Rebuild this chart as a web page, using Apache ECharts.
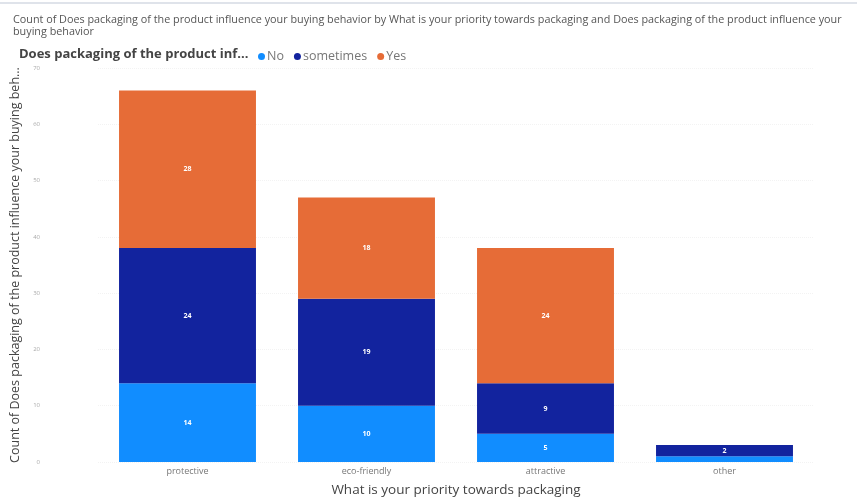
<!DOCTYPE html>
<html>
<head>
<meta charset="utf-8">
<script src="https://cdn.jsdelivr.net/npm/echarts@6/dist/echarts.min.js"></script>
<style>
  html, body { margin: 0; padding: 0; background: #fff; }
  #chart { width: 857px; height: 497px; }
</style>
</head>
<body>
<div id="chart"></div>
<script>
"use strict";

var categories = ['protective', 'eco-friendly', 'attractive', 'other'];
var noValues = [14, 10, 5, 1];
var sometimesValues = [24, 19, 9, 2];
var yesValues = [28, 18, 24, 0];

var COLOR_NO = '#118DFF';
var COLOR_SOMETIMES = '#12239E';
var COLOR_YES = '#E66C37';

function barLabel() {
	return {
		show: true,
		color: '#fff',
		fontSize: 7,
		fontWeight: 'bold',
		formatter: function(p) { return p.value >= 2 ? p.value : ''; }
	};
}

var chart = echarts.init(document.getElementById('chart'));

chart.setOption({
	animation: false,
	textStyle: { fontFamily: 'Open Sans, sans-serif' },
	title: [{
		text: 'Count of Does packaging of the product influence your buying behavior by What is your priority towards packaging and Does packaging of the product influence your\nbuying behavior',
		left: 8,
		top: 9,
		textStyle: { fontSize: 10.8, fontWeight: 'normal', color: '#555', lineHeight: 12 }
	}, {
		text: 'Does packaging of the product inf...',
		left: 14,
		top: 43,
		textStyle: { fontSize: 13, fontWeight: 'bold', color: '#444' }
	}],
	graphic: [{
		type: 'rect',
		shape: { x: 0, y: 2, width: 857, height: 2 },
		style: { fill: '#dfe3ea' }
	}],
	legend: {
		left: 253,
		top: 45,
		icon: 'circle',
		itemWidth: 7,
		itemHeight: 7,
		itemGap: 10,
		textStyle: { fontSize: 12.5, color: '#777', padding: [0, 0, 0, -3] },
		data: ['No', 'sometimes', 'Yes']
	},
	grid: {
		left: 98,
		right: 43,
		top: 68,
		bottom: 35,
		outerBoundsMode: 'none'
	},
	xAxis: {
		type: 'category',
		data: categories,
		name: 'What is your priority towards packaging',
		nameLocation: 'middle',
		nameGap: 21,
		nameTextStyle: { fontSize: 13.5, color: '#444' },
		axisLine: { show: false },
		axisTick: { show: false },
		axisLabel: { fontSize: 9, color: '#777', margin: 5 }
	},
	yAxis: {
		type: 'value',
		min: 0,
		max: 70,
		interval: 10,
		name: 'Count of Does packaging of the product influence your buying beh...',
		nameLocation: 'middle',
		nameGap: 74,
		nameTextStyle: { fontSize: 12.5, color: '#444' },
		axisLabel: { fontSize: 6, color: '#aaa', margin: 58 },
		splitLine: { lineStyle: { color: '#f3f3f3', type: 'dotted' } }
	},
	series: [{
		name: 'No',
		type: 'bar',
		stack: 'total',
		barCategoryGap: '23.5%',
		itemStyle: { color: COLOR_NO },
		label: barLabel(),
		data: noValues
	}, {
		name: 'sometimes',
		type: 'bar',
		stack: 'total',
		itemStyle: { color: COLOR_SOMETIMES },
		label: barLabel(),
		data: sometimesValues
	}, {
		name: 'Yes',
		type: 'bar',
		stack: 'total',
		itemStyle: { color: COLOR_YES },
		label: barLabel(),
		data: yesValues
	}]
});
</script>
</body>
</html>
